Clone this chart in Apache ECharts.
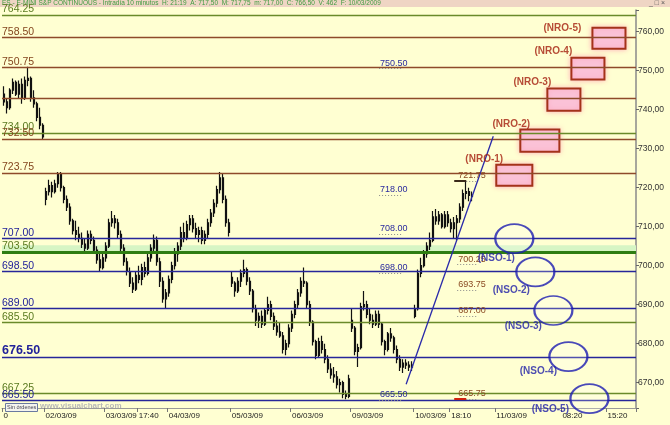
<!DOCTYPE html>
<html><head><meta charset="utf-8">
<script src="https://cdn.jsdelivr.net/npm/echarts@6/dist/echarts.min.js"></script>
<style>html,body{margin:0;padding:0;background:#ffffd2}#c{width:670px;height:425px}</style>
</head><body><div id="c"></div>
<script>
// ---- price bars [open, high, low, close], one array per session ----
const day1 = [[744,746,741,742],[742,743,739,740.5],[740.5,745.5,740,745],[745,748,744,747],[747,747.5,743.5,744],[744,747.5,743,746.5],[746.5,748,741.5,743],[743,748.5,742.5,747.5],[747.5,751,746,748],[748,748.5,742,743],[743,745,740.5,741.5],[741.5,742,737,738],[738,740.5,735,736],[736,736.5,732.5,733]];
const day2 = [[717,720,715.5,719],[719,722,718,720.5],[720.5,721.5,717.5,719],[719,722,718.5,721],[721,724,720,723.5],[723.5,724,719,720],[720,720.5,716,717],[717,718,714,715],[715,716,710.5,711.5],[711.5,712,708,709],[709,711.5,706.5,708],[708,710,706,707],[707,708.5,704.5,705.5],[705.5,707,703.5,704.5],[704.5,709,704,708],[708,709,705.5,706.5],[706.5,707.5,703,704],[704,705,700.5,701.5],[701.5,703,698.5,699.5],[699.5,703,699,702]];
const day3 = [[702,706,701,705],[705,712,704.5,711],[711,714,710,712],[712,713,709.5,711],[711,712,707,708],[708,709,703.5,704.5],[704.5,705.5,700,701],[701,702,697.5,698.5],[698.5,699.5,694.5,695.5],[695.5,697,693,694],[694,698.5,693.5,697.5],[697.5,700,695.5,696.5],[696.5,700.5,695,699.5],[699.5,701,697,698],[698,703,697.5,702],[702,705.5,701,704.5],[704.5,708,703.5,706.5],[706.5,707.5,700,701],[701,702,694.5,696],[696,697,690.5,691.5],[691.5,694,689,693]];
const day4 = [[693,697.5,692,696.5],[696.5,701,695.5,700],[700,704.5,699,703],[703,706,701,705],[705,710,704,708.5],[708.5,711,706,707],[707,711.5,706.5,710.5],[710.5,713,709,712],[712,713,708.5,709.5],[709.5,711,707,708],[708,710,706,709],[709,710,705.5,706.5],[706.5,709,705.5,708],[708,712,707,711],[711,714.5,710,713.5],[713.5,717,712.5,716],[716,720.5,715,719.5],[719.5,724,718.5,722.5],[722.5,723.5,716,717],[717,718,710,711],[711,712,707.5,708.5]];
const day5 = [[697,698.5,694.5,695.5],[695.5,696,692,693.5],[693.5,697,693,696],[696,699,694.5,698],[698,701.5,697,699],[699,699.5,695,696],[696,697,692.5,693.5],[693.5,694,688,689],[689,690,684.5,686],[686,688,684,687],[687,688.5,684,685],[685,689,684.5,688.5],[688.5,692,687.5,690],[690,691,686,687],[687,688,683.5,684.5],[684.5,686,682,683],[683,685.5,681.5,682],[682,683,677.5,678.5],[678.5,681,677,680],[680,685,679,684]];
const day6 = [[684,688.5,683,687.5],[687.5,691,686.5,690],[690,694,689,693],[693,697,692,696],[696,699.5,694.5,695.5],[695.5,696,689,690],[690,691,684.5,685.5],[685.5,686,679.5,680.5],[680.5,681,676,677],[677,681.5,676.5,680.5],[680.5,682,677.5,678.5],[678.5,680,675,676],[676,677,672.5,673.5],[673.5,675,671,672],[672,674,670,671.5],[671.5,673,668.5,669.5],[669.5,671,667.5,670],[670,670.5,666,667],[667,668,665.75,666.5],[666.5,672,666,671]];
const day7 = [[686,689,683,684],[684,684.5,677,678],[678,680,674,679],[679,690.5,678.5,689.5],[689.5,693.5,688.5,690],[690,691,686.5,687.5],[687.5,689,685,686],[686,687.5,684,685],[685,688.5,684.5,687.5],[687.5,688.5,684,685],[685,685.5,679.5,680.5],[680.5,681,677,678.5],[678.5,683,678,682.5],[682.5,684,680.5,681.5],[681.5,682,677.5,678.5],[678.5,679.5,675,676],[676,677,673,674],[674,676,672.5,675],[675,676,673.5,674.5],[674.5,675.5,673,674],[674,675.5,673,674.5]];
const day8 = [[687,690,686.5,689],[689,699,688.5,698],[698,702,697,700],[700,704,699.5,703],[703,706,702,705],[705,708.5,704,706.5],[706.5,714,706,712.5],[712.5,714.5,710.5,711.5],[711.5,714,710.5,713],[713,713.5,709.5,710],[710,714,709.5,713],[713,714,710,711],[711,712,708.5,709.5],[709.5,712.5,707,711],[711,713,706.5,712],[712,716,711,715],[715,719.5,714,718.5],[718.5,721.75,717,719],[719,720,716.5,718],[718,719,716.5,717.75]];

// ---- time axis: slot count and tick labels ----
const totalSlots = 211;
const tickIdx  = [0, 14, 34, 45, 55, 76, 96, 116, 137, 149, 164, 186, 201];
const tickText = ['0','02/03/09','03/03/09','17:40','04/03/09','05/03/09','06/03/09','09/03/09','10/03/09','18:10','11/03/09','08:20','15:20'];

// ---- horizontal levels ----
const levelValues = [764.25, 758.50, 750.75, 743.00, 734.00, 732.50, 723.75, 707.00, 703.50, 698.50, 689.00, 685.50, 676.50, 667.25, 665.50];
const levelKinds  = ['g','r','r','r','g','r','r','b','G','b','b','g','b','g','b'];
const levelShown  = [1,1,1,0,1,1,1,1,1,1,1,1,1,1,1];
const bigLevels   = [676.50];
const bandRange   = [703.50, 705.20];

// ---- annotation notes ----
const blueNotes  = [750.50, 718.00, 708.00, 698.00, 665.50];
const blueSpan   = [125, 133];
const brownNotes = [721.75, 700.25, 693.75, 687.00, 665.75];
const brownSpan  = [151, 158];
const solidMarks = [[150, 154, 721.75], [150, 154, 665.75]];

// ---- trend line ----
const trendFrom = [134, 669.6];
const trendTo   = [163, 733.2];

// ---- NRO boxes [x0, x1, low, high] and labels ----
const nroBoxes  = [[164,176,720.5,725.9],[172,185,729.2,734.9],[181,192,739.7,745.4],[189,200,747.7,753.3],[196,207,755.6,761.0]];
const nroLabels = [[160,727.4],[169,736.2],[176,746.9],[183,754.9],[186,760.8]];
const nroNames  = ['(NRO-1)','(NRO-2)','(NRO-3)','(NRO-4)','(NRO-5)'];

// ---- NSO ellipses and labels ----
const nsoCenters = [[170,706.9],[177,698.4],[183,688.5],[188,676.7],[195,665.9]];
const nsoLabels  = [[164,702.0],[169,693.6],[173,684.4],[178,672.8],[182,663.1]];
const nsoNames   = ['(NSO-1)','(NSO-2)','(NSO-3)','(NSO-4)','(NSO-5)'];

// ================= build =================
const FONT = 'Liberation Sans, Arial, sans-serif';
const bars = [].concat(day1, day2, day3, day4, day5, day6, day7, day8);
const candle = bars.map(b => [b[0], b[3], b[2], b[1]]);
const cats = Array.from({length: totalSlots}, (_, i) => String(i));
const tickMap = {};
tickIdx.forEach((t, k) => tickMap[t] = tickText[k]);

const kindLine = {g:{color:'#6a8a2a', width:1.3}, r:{color:'#8e4a2a', width:1.3}, b:{color:'#26269a', width:1.3}, G:{color:'#2e7d12', width:3}};
const kindText = {g:'#5a7a20', r:'#84461e', b:'#22229a', G:'#5a7a20'};

const levelData = levelValues.map((v, k) => ({
  yAxis: v,
  lineStyle: {color: kindLine[levelKinds[k]].color, width: kindLine[levelKinds[k]].width, type: 'solid'},
  label: {
    show: !!levelShown[k], position: 'insideStartTop', distance: 0,
    formatter: v.toFixed(2), color: kindText[levelKinds[k]],
    fontSize: bigLevels.includes(v) ? 12.5 : 10.5, fontWeight: bigLevels.includes(v) ? 'bold' : 'normal',
    fontFamily: FONT, padding: 0
  }
}));

function noteLines(vals, span, color) {
  return vals.map(v => [
    {name: v.toFixed(2), coord: [span[0], v], lineStyle: {color: '#8a8a8a', width: 1, type: [1, 2]},
     label: {show: true, position: 'insideStartTop', distance: 1, formatter: '{b}', color: color, fontSize: 9, fontFamily: FONT, padding: 0}},
    {coord: [span[1], v]}
  ]);
}

const option = {
  animation: false,
  backgroundColor: '#ffffd2',
  grid: {left: 2, right: 34, top: 10, bottom: 17, containLabel: false},
  xAxis: {
    type: 'category', data: cats, boundaryGap: true,
    axisLine: {show: true, lineStyle: {color: '#9a9a9a'}},
    axisTick: {show: true, interval: (i) => tickMap[i] !== undefined, length: 4, lineStyle: {color: '#777'}},
    axisLabel: {interval: (i) => tickMap[i] !== undefined, formatter: (v) => tickMap[+v] || '',
      align: 'left', margin: 4, fontSize: 8, color: '#222', fontFamily: FONT},
    splitLine: {show: false}
  },
  yAxis: {
    type: 'value', position: 'right', min: 663.5, max: 765.55, splitNumber: 10, scale: true,
    axisLine: {show: true, lineStyle: {color: '#8a8a8a', width: 1.5}},
    axisTick: {show: true, length: 3, lineStyle: {color: '#666'}},
    axisLabel: {formatter: v => (Math.abs(v % 10) < 1e-6 ? v.toFixed(2).replace('.', ',') : ''),
      fontSize: 8.5, color: '#333', margin: 2, fontFamily: FONT},
    splitLine: {show: false}
  },
  series: [
    { // levels
      type: 'line', data: [], z: 1, silent: true,
      markArea: {silent: true, itemStyle: {color: '#d6f5c4'}, data: [[{yAxis: bandRange[0]}, {yAxis: bandRange[1]}]]},
      markLine: {silent: true, symbol: ['none', 'none'], animation: false, data: levelData}
    },
    { // price bars
      type: 'candlestick', data: candle, z: 3, barMaxWidth: 2,
      itemStyle: {color: '#111', color0: '#111', borderColor: '#111', borderColor0: '#111', borderWidth: 1.2}
    },
    { // notes, trend line, boxes
      type: 'line', data: [], z: 4, silent: true,
      markArea: {silent: true,
        itemStyle: {color: 'rgba(250,196,220,0.85)', borderColor: '#a4321a', borderWidth: 2,
          shadowBlur: 5, shadowColor: 'rgba(255,150,180,0.8)'},
        data: nroBoxes.map(b => [{coord: [b[0], b[3]]}, {coord: [b[1], b[2]]}])
      },
      markLine: {silent: true, symbol: ['none', 'none'], animation: false,
        data: [].concat(
          noteLines(blueNotes, blueSpan, '#2a2a9e'),
          noteLines(brownNotes, brownSpan, '#8a4a22'),
          solidMarks.map((m, k) => [{coord: [m[0], m[2]], lineStyle: {color: k === 0 ? '#3a2a1a' : '#d02010', width: 2, type: 'solid'}, label: {show: false}}, {coord: [m[1], m[2]]}]),
          [[{coord: trendFrom, lineStyle: {color: '#2a2aaa', width: 1.3, type: 'solid'}, label: {show: false}}, {coord: trendTo}]]
        )
      }
    },
    { // NSO ellipses
      type: 'scatter', z: 5, clip: false, silent: true,
      symbol: 'circle', symbolSize: [38, 29],
      itemStyle: {color: 'rgba(255,255,255,0.25)', borderColor: '#1c1cb0', borderWidth: 2},
      data: nsoCenters
    },
    { // text labels
      type: 'scatter', z: 6, clip: false, silent: true, symbolSize: 0,
      data: [].concat(
        nroLabels.map((p, k) => ({value: p, label: {show: true, position: 'inside', formatter: nroNames[k], color: '#a41e0e', fontWeight: 'bold', fontSize: 10, fontFamily: FONT}})),
        nsoLabels.map((p, k) => ({value: p, label: {show: true, position: 'inside', formatter: nsoNames[k], color: '#2020a8', fontWeight: 'bold', fontSize: 10, fontFamily: FONT}}))
      )
    }
  ],
  graphic: [
    {type: 'rect', left: 0, top: 0, z: 0, shape: {width: 670, height: 7}, style: {fill: '#efd5c4'}},
    {type: 'text', left: 2, top: 0, z: 0, z2: 5, style: {text: 'ES - E-MINI S&P CONTINUOUS - Intradía 10 minutos  H: 21:19  A: 717,50  M: 717,75  m: 717,00  C: 766,50  V: 462  F: 10/03/2009', fill: '#3f9a3f', fontSize: 6.5, fontFamily: FONT}},
    {type: 'text', left: 649, top: 0, z: 0, z2: 5, style: {text: '_ □ ×', fill: '#555', fontSize: 7, fontFamily: FONT}},
    {type: 'rect', left: 5, top: 403, shape: {width: 32, height: 8}, style: {fill: '#f4f4ee', stroke: '#6a7aa0', lineWidth: 1}, z: 10},
    {type: 'text', left: 7, top: 404.5, z: 11, style: {text: 'Sin órdenes', fill: '#445', fontSize: 5.5, fontFamily: FONT}},
    {type: 'text', left: 40, top: 402, z: 11, style: {text: 'www.visualchart.com', fill: '#b8b8b8', fontSize: 8, fontWeight: 'bold', fontFamily: FONT}}
  ]
};
echarts.init(document.getElementById('c'), null, {renderer: 'canvas'}).setOption(option);
</script></body></html>
